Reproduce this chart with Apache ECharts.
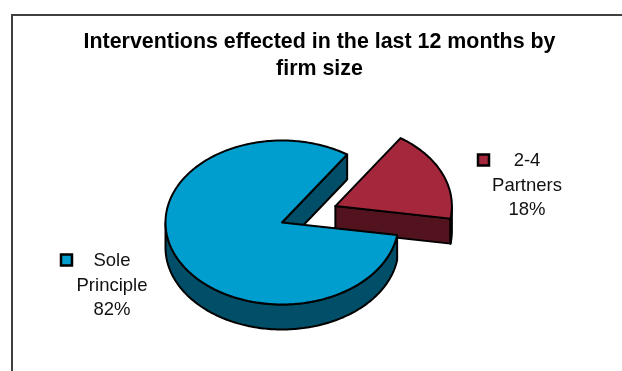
<!DOCTYPE html>
<html>
<head>
<meta charset="utf-8">
<style>html,body{margin:0;padding:0;background:#fff}#chart{width:622px;height:371px}</style>
<script src="https://cdn.jsdelivr.net/npm/echarts@6/dist/echarts.min.js"></script>
</head>
<body>
<div id="chart"></div>
<script>
// Slices are listed back to front so the large slice paints over the exploded one.
const categories = ['2-4\nPartners', 'Sole\nPrinciple'];
const shares = [18, 82];
const explode = [0.5, 0];
const topColors = ['#A5273C', '#009DCF'];
const wallColors = ['#53131E', '#004E67'];
const labelCentres = [[527, 160], [112, 260]];
const keyCentres = [[483.5, 160], [66.5, 260]];

const PIE = { cx: 282, cy: 222.5, rx: 116.5, ry: 82, depth: 25, firstAngle: -8.8 };
const FONT = '"Liberation Sans", Arial, sans-serif';
const INK = '#000';

const rad = (d) => d * Math.PI / 180;
const rimPoint = (c, t) => [c[0] + PIE.rx * Math.cos(rad(t)), c[1] - PIE.ry * Math.sin(rad(t))];
const drop = (p) => [p[0], p[1] + PIE.depth];

function arcPoints(c, from, to) {
  const pts = [];
  const n = Math.max(2, Math.ceil(Math.abs(to - from)));
  for (let i = 0; i <= n; i++) pts.push(rimPoint(c, from + (to - from) * i / n));
  return pts;
}

function polygon(points, fill) {
  return {
    type: 'polygon',
    shape: { points },
    style: { fill, stroke: INK, lineWidth: 2, lineJoin: 'round' }
  };
}

// Draws one slice: visible cut face, front rim wall, top surface, then key and label.
function renderSlice(params, api) {
  const i = params.dataIndex;
  const total = shares.reduce((a, b) => a + b, 0);
  const before = shares.slice(0, i).reduce((a, b) => a + b, 0);
  const a0 = PIE.firstAngle + 360 * before / total;
  const a1 = a0 + 360 * api.value(0) / total;
  const mid = rad((a0 + a1) / 2);
  const c = [
    PIE.cx + explode[i] * PIE.rx * Math.cos(mid),
    PIE.cy - explode[i] * PIE.ry * Math.sin(mid)
  ];
  const children = [];

  // Straight cut face, shown only when it turns toward the viewer.
  const faceAngle = Math.cos(rad(a0)) > 0 ? a0 : (Math.cos(rad(a1)) < 0 ? a1 : null);
  if (faceAngle !== null) {
    const p = rimPoint(c, faceAngle);
    children.push(polygon([c, p, drop(p), drop(c)], wallColors[i]));
  }

  // Rim wall on the lower half of the ellipse (180..360 degrees).
  for (const k of [0, 360]) {
    const from = Math.max(a0, 180 + k - 360);
    const to = Math.min(a1, k);
    if (to > from) {
      const top = arcPoints(c, from, to);
      children.push(polygon(top.concat(top.map(drop).reverse()), wallColors[i]));
    }
  }

  children.push(polygon([c].concat(arcPoints(c, a0, a1)), topColors[i]));

  const k = keyCentres[i];
  children.push({
    type: 'rect',
    shape: { x: k[0] - 5.5, y: k[1] - 5.5, width: 11, height: 11 },
    style: { fill: topColors[i], stroke: INK, lineWidth: 2.5 }
  });
  children.push({
    type: 'text',
    style: {
      x: labelCentres[i][0],
      y: labelCentres[i][1] - 11,
      text: categories[i] + '\n' + api.value(0) + '%',
      font: '18.5px ' + FONT,
      lineHeight: 24.5,
      fill: '#111',
      align: 'center',
      verticalAlign: 'top'
    }
  });
  return { type: 'group', children };
}

const chart = echarts.init(document.getElementById('chart'), null, { renderer: 'canvas' });
chart.setOption({
  animation: false,
  backgroundColor: '#fff',
  title: {
    text: 'Interventions effected in the last 12 months by\nfirm size',
    left: 314.5,
    top: 24,
    textAlign: 'center',
    textStyle: { fontFamily: FONT, fontSize: 21.4, fontWeight: 'bold', color: '#000', lineHeight: 27 }
  },
  graphic: [{
    type: 'polyline',
    shape: { points: [[12, 371], [12, 15], [622, 15]] },
    style: { fill: null, stroke: '#404040', lineWidth: 2 }
  }],
  series: [{
    type: 'custom',
    coordinateSystem: 'none',
    renderItem: renderSlice,
    data: shares.map((v) => [v])
  }]
});
</script>
</body>
</html>
